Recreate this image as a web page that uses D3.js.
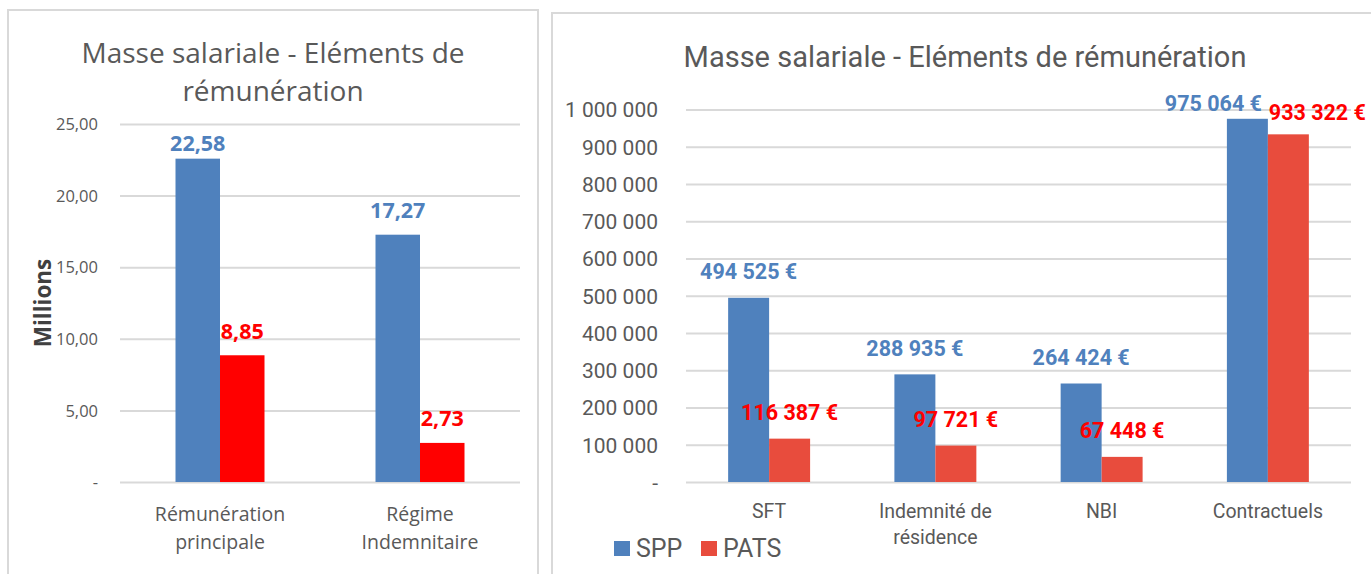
<!DOCTYPE html>
<html>
<head>
<meta charset="utf-8">
<script src="https://cdn.jsdelivr.net/npm/d3@7"></script>
<style>
  body { margin: 0; background: #fff; }
  svg { display: block; }
  .left text { font-family: "Open Sans", sans-serif; }
  .right text { font-family: "Roboto", sans-serif; }
</style>
</head>
<body>
<svg width="1371" height="574"></svg>
<script>
// --- left chart data (millions)
var leftCategories = [["Rémunération", "principale"], ["Régime", "Indemnitaire"]];
var leftSPP = [22.58, 17.27];
var leftPATS = [8.85, 2.73];
var leftTicks = [0, 5, 10, 15, 20, 25];

// --- right chart data (euros)
var rightCategories = [["SFT"], ["Indemnité de", "résidence"], ["NBI"], ["Contractuels"]];
var rightSPP = [494525, 288935, 264424, 975064];
var rightPATS = [116387, 97721, 67448, 933322];
var rightTicks = [0, 100000, 200000, 300000, 400000, 500000, 600000, 700000, 800000, 900000, 1000000];

var series = ["SPP", "PATS"];
var blue = "#4f81bd";
var grid = "#d9d9d9";
var grey = "#595959";

var svg = d3.select("svg");

// panel frames
svg.append("rect").attr("x", 8).attr("y", 10).attr("width", 530).attr("height", 600)
    .attr("fill", "none").attr("stroke", grid).attr("stroke-width", 2);
svg.append("rect").attr("x", 552).attr("y", 13).attr("width", 900).attr("height", 600)
    .attr("fill", "none").attr("stroke", grid).attr("stroke-width", 2);

var fmtLeft = function(d) { return d === 0 ? "-" : d.toFixed(2).replace(".", ","); };
var fmtRight = function(d) { return d === 0 ? "-" : d3.format(",")(d).replace(/,/g, " "); };
var fmtEuro = function(d) { return d3.format(",")(d).replace(/,/g, " ") + " €"; };

function drawChart(opt) {
    var g = svg.append("g").attr("class", opt.cls);
    var names = opt.categories.map(function(c) { return c.join(" "); });

    var x0 = d3.scaleBand().domain(names).range(opt.xRange)
        .paddingInner(opt.pad).paddingOuter(opt.pad / 2);
    var x1 = d3.scaleBand().domain(series).range([0, x0.bandwidth()]);
    var y = d3.scaleLinear().domain(opt.yDomain).range(opt.yRange);

    // grid + tick labels
    var yAxis = d3.axisLeft(y).tickValues(opt.ticks).tickFormat(opt.fmtTick)
        .tickSize(-(opt.xRange[1] - opt.xRange[0])).tickPadding(opt.tickPad);
    var ax = g.append("g").attr("transform", "translate(" + opt.xRange[0] + ",0)").call(yAxis);
    ax.select(".domain").remove();
    ax.selectAll(".tick line").attr("stroke", grid).attr("stroke-width", 2);
    ax.selectAll(".tick text").attr("fill", grey).style("font-size", opt.tickSize + "px")
        .attr("dy", "0.35em");

    // bars
    var rows = names.map(function(n, i) {
        return series.map(function(s) {
            return { cat: n, s: s, v: (s === "SPP" ? opt.spp : opt.pats)[i] };
        });
    });
    var grp = g.selectAll(".grp").data(rows).enter().append("g")
        .attr("transform", function(d) { return "translate(" + x0(d[0].cat) + ",0)"; });
    grp.selectAll("rect").data(function(d) { return d; }).enter().append("rect")
        .attr("x", function(d) { return x1(d.s); })
        .attr("width", x1.bandwidth())
        .attr("y", function(d) { return y(d.v); })
        .attr("height", function(d) { return y(0) - y(d.v); })
        .attr("fill", function(d) { return d.s === "SPP" ? blue : opt.red; });

    // data labels
    grp.selectAll(".lbl").data(function(d) { return d; }).enter().append("text")
        .attr("text-anchor", "middle")
        .attr("dominant-baseline", "central")
        .attr("x", function(d) {
            var n = opt.nudge[d.cat + "|" + d.s];
            return x1(d.s) + x1.bandwidth() / 2 + (n ? n[0] : 0);
        })
        .attr("y", function(d) {
            var n = opt.nudge[d.cat + "|" + d.s];
            return y(d.v) - (n ? n[1] : opt.lblGap);
        })
        .attr("fill", function(d) { return d.s === "SPP" ? blue : "#ff0000"; })
        .style("font-size", opt.lblSize + "px").style("font-weight", "bold")
        .text(function(d) { return opt.fmtLabel(d.v); });

    // category labels
    opt.categories.forEach(function(lines, i) {
        lines.forEach(function(line, j) {
            g.append("text").attr("text-anchor", "middle").attr("dominant-baseline", "central")
                .attr("x", x0(names[i]) + x0.bandwidth() / 2)
                .attr("y", opt.catY + j * opt.catLine)
                .attr("fill", grey).style("font-size", opt.catSize + "px")
                .text(line);
        });
    });

    // title
    opt.title.forEach(function(line, j) {
        g.append("text").attr("text-anchor", "middle").attr("dominant-baseline", "central")
            .attr("x", opt.titleX).attr("y", opt.titleY + j * opt.titleLine)
            .attr("fill", grey).style("font-size", opt.titleSize + "px")
            .text(line);
    });
    return g;
}

var left = drawChart({
    cls: "left", categories: leftCategories, spp: leftSPP, pats: leftPATS,
    red: "#ff0000", xRange: [120, 520], pad: 0.555,
    yDomain: [0, 25], yRange: [482, 124], ticks: leftTicks,
    fmtTick: fmtLeft, tickPad: 22, tickSize: 16.5,
    fmtLabel: fmtLeft, lblSize: 21.5, lblGap: 25,
    nudge: { "Rémunération principale|SPP": [0, 16] },
    catY: 513, catLine: 28, catSize: 19.5,
    title: ["Masse salariale - Eléments de", "rémunération"],
    titleX: 273, titleY: 52, titleLine: 38, titleSize: 28
});

left.append("text").attr("transform", "translate(42,303) rotate(-90)")
    .attr("text-anchor", "middle").attr("dominant-baseline", "central")
    .attr("fill", "#404040").style("font-size", "22.5px").style("font-weight", "bold")
    .text("Millions");

var right = drawChart({
    cls: "right", categories: rightCategories, spp: rightSPP, pats: rightPATS,
    red: "#e84c3d", xRange: [686, 1351], pad: 0.507,
    yDomain: [0, 1000000], yRange: [482, 109.5], ticks: rightTicks,
    fmtTick: fmtRight, tickPad: 28, tickSize: 21,
    fmtLabel: fmtEuro, lblSize: 21.5, lblGap: 26,
    nudge: { "Contractuels|SPP": [-34, 15], "Contractuels|PATS": [29, 22] },
    catY: 511, catLine: 26, catSize: 19.5,
    title: ["Masse salariale - Eléments de rémunération"],
    titleX: 965, titleY: 57, titleLine: 0, titleSize: 29
});

// legend
var leg = right.selectAll(".leg").data(series).enter().append("g")
    .attr("transform", function(d, i) { return "translate(" + (614 + i * 87) + ",541)"; });
leg.append("rect").attr("width", 16).attr("height", 15)
    .attr("fill", function(d) { return d === "SPP" ? blue : "#e84c3d"; });
leg.append("text").attr("x", 22).attr("y", 7.5).attr("dominant-baseline", "central")
    .attr("fill", grey).style("font-size", "25px").text(function(d) { return d; });
</script>
</body>
</html>
